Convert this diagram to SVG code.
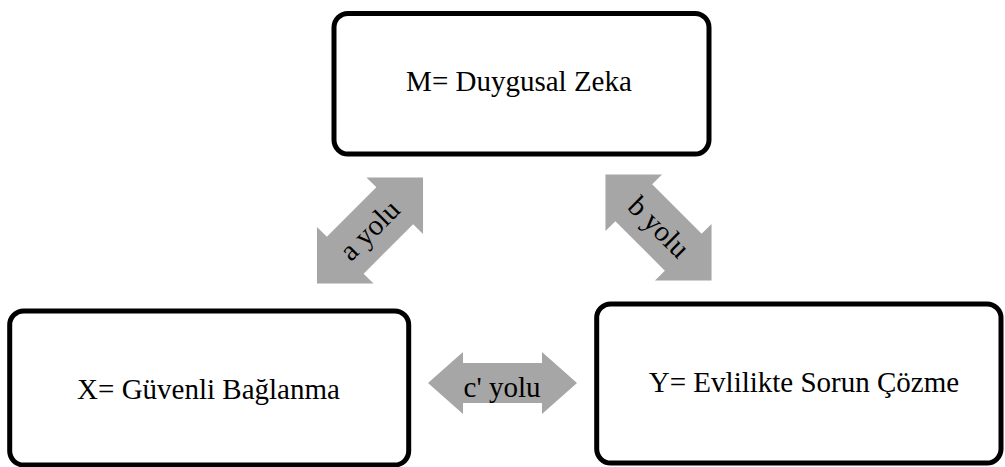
<svg xmlns="http://www.w3.org/2000/svg" width="1005" height="467" viewBox="0 0 1005 467">
  <style>
    .box { fill: #ffffff; stroke: #000000; stroke-width: 5; }
    .lbl { font-family: "Liberation Serif", "Times New Roman", serif; font-size: 29px; fill: #000000; text-anchor: middle; }
    .arr { fill: #A6A6A6; stroke: none; }
  </style>
  <defs>
    <path id="darrow" d="M -75,0 L -35,-40 L -35,-26 L 35,-26 L 35,-40 L 75,0 L 35,40 L 35,26 L -35,26 L -35,40 Z"/>
  </defs>
  <rect width="1005" height="467" fill="#ffffff"/>

  <g id="node-M">
    <rect class="box" x="334" y="13.5" width="375" height="140.5" rx="14" ry="14"/>
    <text class="lbl" x="519" y="91">M= Duygusal Zeka</text>
  </g>

  <g id="node-X">
    <rect class="box" x="9.7" y="311" width="399" height="154" rx="14" ry="14"/>
    <text class="lbl" x="208.5" y="399">X= Güvenli Bağlanma</text>
  </g>

  <g id="node-Y">
    <rect class="box" x="596.7" y="304" width="404.3" height="159" rx="14" ry="14"/>
    <text class="lbl" x="804" y="392">Y= Evlilikte Sorun Çözme</text>
  </g>

  <g id="connectors">
    <g id="conn-a" transform="translate(370,230.5) rotate(-45)">
      <use href="#darrow" class="arr"/>
      <text class="lbl" x="0" y="9">a yolu</text>
    </g>
    <g id="conn-b" transform="translate(658.5,227.5) rotate(45)">
      <use href="#darrow" class="arr"/>
      <text class="lbl" x="0" y="9">b yolu</text>
    </g>
    <g id="conn-c">
      <path class="arr" d="M 428,383 L 463,352 L 463,363 L 542,363 L 542,352 L 577,383 L 542,414 L 542,403 L 463,403 L 463,414 Z"/>
      <text class="lbl" x="502" y="397">c' yolu</text>
    </g>
  </g>
</svg>
